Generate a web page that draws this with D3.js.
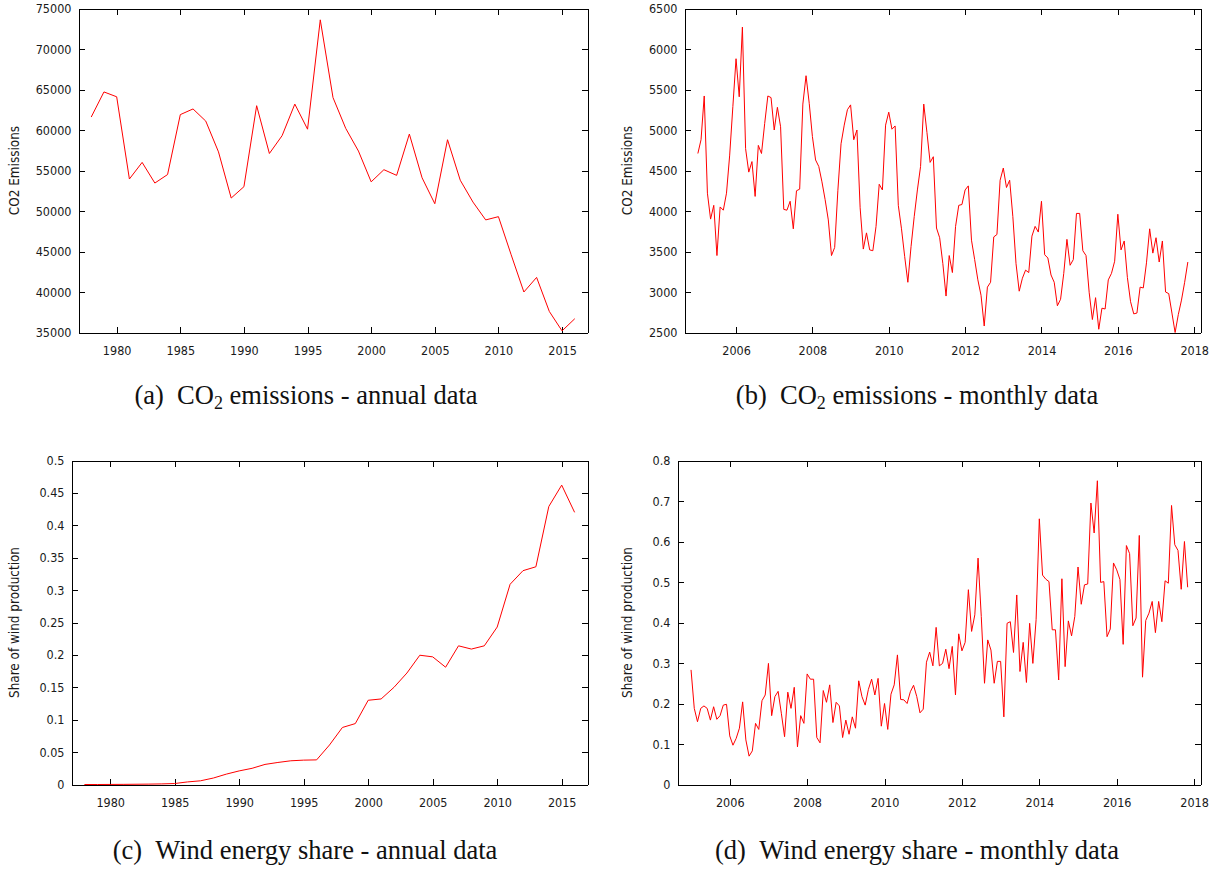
<!DOCTYPE html>
<html>
<head>
<meta charset="utf-8">
<script src="https://cdn.jsdelivr.net/npm/d3@7"></script>
<style>
  body { margin: 0; background: #fff; }
  svg { display: block; }
  .axis text { font-family: "DejaVu Sans Condensed", "DejaVu Sans", sans-serif; font-stretch: condensed; font-size: 12.5px; fill: #1a1a1a; }
  .axis path, .axis line { stroke: #000; stroke-width: 1; shape-rendering: crispEdges; }
  .ytitle { font-family: "DejaVu Sans Condensed", "DejaVu Sans", sans-serif; font-stretch: condensed; font-size: 13.4px; fill: #1a1a1a; }
  .caption { font-family: "Liberation Serif", "DejaVu Serif", serif; font-size: 26.5px; fill: #111; }
  .series { fill: none; stroke: #ff0000; stroke-width: 1; stroke-linejoin: miter; }
</style>
</head>
<body>
<svg id="fig" width="1220" height="869"></svg>
<script>
// ---- Annual data, 1978-2016 ----
const annualYears = [1978, 1979, 1980, 1981, 1982, 1983, 1984, 1985, 1986, 1987,
  1988, 1989, 1990, 1991, 1992, 1993, 1994, 1995, 1996, 1997,
  1998, 1999, 2000, 2001, 2002, 2003, 2004, 2005, 2006, 2007,
  2008, 2009, 2010, 2011, 2012, 2013, 2014, 2015, 2016];

const co2Annual = [61600, 64700, 64100, 53950, 56000, 53450, 54500, 61900, 62600, 61100,
  57300, 51600, 53000, 63000, 57100, 59300, 63200, 60100, 73600, 64000,
  60200, 57400, 53600, 55100, 54400, 59500, 54100, 50900, 58800, 53800,
  51100, 48900, 49300, 44600, 40000, 41800, 37600, 35200, 36700];

const windAnnual = [0, 0, 0.0001, 0.0002, 0.0004, 0.0006, 0.0009, 0.0015, 0.004, 0.0057,
  0.010, 0.016, 0.021, 0.025, 0.031, 0.034, 0.0366, 0.0376, 0.038, 0.061,
  0.088, 0.094, 0.130, 0.132, 0.150, 0.172, 0.1995, 0.197, 0.181, 0.214,
  0.209, 0.214, 0.243, 0.309, 0.330, 0.336, 0.429, 0.462, 0.420];

// ---- Monthly data, January 2005 - November 2017 (one value per month) ----
const monthlyStartYear = 2005;

const co2Monthly = [
  4710, 4880, 5420, 4220, 3900, 4070, 3450, 4050, 4010, 4220, 4690, 5290, // 2005
  5880, 5410, 6270, 4770, 4480, 4610, 4180, 4810, 4710, 5080, 5420, 5400, // 2006
  5000, 5280, 5040, 4020, 4010, 4120, 3780, 4250, 4270, 5320, 5670, 5330, // 2007
  4920, 4630, 4550, 4360, 4140, 3890, 3450, 3550, 4250, 4830, 5060, 5250, // 2008
  5310, 4880, 5000, 4040, 3530, 3730, 3520, 3510, 3810, 4330, 4260, 5060, // 2009
  5220, 5010, 5050, 4070, 3780, 3440, 3120, 3560, 3930, 4260, 4550, 5320, // 2010
  4970, 4600, 4670, 3790, 3670, 3350, 2950, 3450, 3240, 3810, 4070, 4080, // 2011
  4260, 4310, 3640, 3400, 3150, 2960, 2580, 3060, 3120, 3680, 3710, 4380, // 2012
  4530, 4290, 4380, 3930, 3350, 3010, 3170, 3270, 3240, 3690, 3810, 3740, // 2013
  4120, 3460, 3420, 3210, 3120, 2830, 2910, 3230, 3650, 3330, 3400, 3970, // 2014
  3970, 3510, 3450, 2990, 2660, 2930, 2540, 2800, 2790, 3150, 3230, 3380, // 2015
  3960, 3520, 3630, 3180, 2880, 2730, 2740, 3060, 3050, 3360, 3780, 3480, // 2016
  3670, 3370, 3630, 3000, 2980, 2740, 2500, 2720, 2900, 3120, 3370        // 2017
];

const windMonthly = [
  0.283, 0.188, 0.155, 0.188, 0.194, 0.188, 0.159, 0.192, 0.161, 0.170, 0.196, 0.198, // 2005
  0.120, 0.097, 0.114, 0.139, 0.204, 0.110, 0.070, 0.083, 0.151, 0.136, 0.207, 0.221, // 2006
  0.299, 0.170, 0.217, 0.230, 0.176, 0.118, 0.228, 0.188, 0.240, 0.093, 0.170, 0.151, // 2007
  0.273, 0.260, 0.260, 0.116, 0.103, 0.232, 0.203, 0.246, 0.153, 0.203, 0.194, 0.116, // 2008
  0.159, 0.124, 0.167, 0.139, 0.256, 0.217, 0.196, 0.235, 0.260, 0.221, 0.262, 0.144, // 2009
  0.200, 0.136, 0.223, 0.246, 0.320, 0.210, 0.209, 0.200, 0.229, 0.245, 0.217, 0.177, // 2010
  0.186, 0.302, 0.327, 0.293, 0.388, 0.293, 0.299, 0.334, 0.286, 0.341, 0.221, 0.372, // 2011
  0.330, 0.351, 0.481, 0.378, 0.419, 0.559, 0.415, 0.250, 0.357, 0.332, 0.250, 0.304, // 2012
  0.304, 0.167, 0.398, 0.402, 0.326, 0.468, 0.279, 0.351, 0.252, 0.398, 0.299, 0.407, // 2013
  0.656, 0.517, 0.507, 0.501, 0.382, 0.382, 0.258, 0.508, 0.291, 0.404, 0.367, 0.415, // 2014
  0.537, 0.445, 0.493, 0.495, 0.695, 0.621, 0.750, 0.499, 0.501, 0.365, 0.384, 0.547, // 2015
  0.530, 0.506, 0.346, 0.590, 0.570, 0.392, 0.411, 0.615, 0.265, 0.405, 0.423, 0.452, // 2016
  0.375, 0.452, 0.402, 0.503, 0.497, 0.689, 0.592, 0.578, 0.482, 0.600, 0.487         // 2017
];

// ---- Tick labels ----
const annualTicks = [1980, 1985, 1990, 1995, 2000, 2005, 2010, 2015];
const monthlyTicks = [2006, 2008, 2010, 2012, 2014, 2016, 2018];
const co2AnnualTicks = [35000, 40000, 45000, 50000, 55000, 60000, 65000, 70000, 75000];
const co2MonthlyTicks = [2500, 3000, 3500, 4000, 4500, 5000, 5500, 6000, 6500];
const windAnnualTicks = [0, 0.05, 0.1, 0.15, 0.2, 0.25, 0.3, 0.35, 0.4, 0.45, 0.5];
const windMonthlyTicks = [0, 0.1, 0.2, 0.3, 0.4, 0.5, 0.6, 0.7, 0.8];

// month index -> fractional year
const monthlyX = co2Monthly.map((_, i) => monthlyStartYear + i / 12);

const intFmt = d3.format("d");
const shareFmt = d => String(+d.toFixed(2));

const panels = [
  { box: [78.5, 587.5, 8.5, 332.5], xDomain: [1977, 2017], yDomain: [35000, 75000],
    xTicks: annualTicks, yTicks: co2AnnualTicks, yFmt: intFmt,
    xs: annualYears, ys: co2Annual, title: "CO2 Emissions", titleX: 14,
    caption: ["(a)", "CO", "2", " emissions - annual data"], capX: 306, capY: 404 },
  { box: [684.5, 1200.5, 8.5, 332.5], xDomain: [2004.65, 2018.165], yDomain: [2500, 6500],
    xTicks: monthlyTicks, yTicks: co2MonthlyTicks, yFmt: intFmt,
    xs: monthlyX, ys: co2Monthly, title: "CO2 Emissions", titleX: 627,
    caption: ["(b)", "CO", "2", " emissions - monthly data"], capX: 917, capY: 404 },
  { box: [71.5, 587.5, 460.5, 784.5], xDomain: [1977, 2017], yDomain: [0, 0.5],
    xTicks: annualTicks, yTicks: windAnnualTicks, yFmt: shareFmt,
    xs: annualYears, ys: windAnnual, title: "Share of wind production", titleX: 14,
    caption: ["(c)", "Wind energy share - annual data"], capX: 305, capY: 859 },
  { box: [677.5, 1200.5, 460.5, 784.5], xDomain: [2004.65, 2018.165], yDomain: [0, 0.8],
    xTicks: monthlyTicks, yTicks: windMonthlyTicks, yFmt: shareFmt,
    xs: monthlyX, ys: windMonthly, title: "Share of wind production", titleX: 627,
    caption: ["(d)", "Wind energy share - monthly data"], capX: 917, capY: 859 }
];

const svg = d3.select("#fig");
const TICK = 6;

panels.forEach(p => {
  const [x0, x1, y0, y1] = p.box;
  const x = d3.scaleLinear().domain(p.xDomain).range([x0, x1]);
  const y = d3.scaleLinear().domain(p.yDomain).range([y1, y0]);
  const g = svg.append("g");

  // frame with inward ticks on all four sides
  g.append("g").attr("class", "axis").attr("transform", `translate(0,${y1})`)
    .call(d3.axisBottom(x).tickValues(p.xTicks).tickFormat(intFmt)
      .tickSizeInner(-TICK).tickSizeOuter(0).tickPadding(14));
  g.append("g").attr("class", "axis").attr("transform", `translate(0,${y0})`)
    .call(d3.axisTop(x).tickValues(p.xTicks).tickFormat(() => "")
      .tickSizeInner(-TICK).tickSizeOuter(0));
  g.append("g").attr("class", "axis").attr("transform", `translate(${x0},0)`)
    .call(d3.axisLeft(y).tickValues(p.yTicks).tickFormat(p.yFmt)
      .tickSizeInner(-TICK).tickSizeOuter(0).tickPadding(7));
  g.append("g").attr("class", "axis").attr("transform", `translate(${x1},0)`)
    .call(d3.axisRight(y).tickValues(p.yTicks).tickFormat(() => "")
      .tickSizeInner(-TICK).tickSizeOuter(0));

  // data line
  const line = d3.line().x((d, i) => x(p.xs[i])).y(d => y(d));
  g.append("path").attr("class", "series").attr("d", line(p.ys));

  // y-axis title
  g.append("text").attr("class", "ytitle")
    .attr("transform", `translate(${p.titleX},${(y0 + y1) / 2}) rotate(-90)`)
    .attr("text-anchor", "middle").attr("dy", "0.35em")
    .text(p.title);

  // sub-figure caption
  const cap = svg.append("text").attr("class", "caption")
    .attr("x", p.capX).attr("y", p.capY).attr("text-anchor", "middle");
  cap.append("tspan").text(p.caption[0] + "\u2002");
  if (p.caption.length === 4) {
    cap.append("tspan").text(p.caption[1]);
    cap.append("tspan").attr("font-size", "18px").attr("dy", 5).text(p.caption[2]);
    cap.append("tspan").attr("dy", -5).text(p.caption[3]);
  } else {
    cap.append("tspan").text(p.caption[1]);
  }
});
</script>
</body>
</html>
